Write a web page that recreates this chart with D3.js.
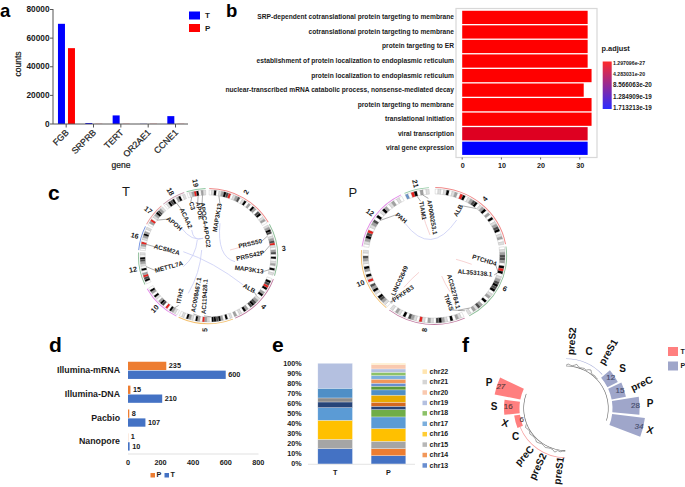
<!DOCTYPE html>
<html><head><meta charset="utf-8">
<script src="https://cdn.jsdelivr.net/npm/d3@7"></script>
<style>html,body{margin:0;padding:0;background:#fff}svg{display:block}text{font-family:"Liberation Sans",Arial,sans-serif;fill:#1a1a1a}</style>
</head><body><svg id="c" width="685" height="487"></svg>
<script>
// ---- panel a
const aGenes=["FGB","SRPRB","TERT","OR2AE1","CCNE1"];
const aT=[70000,700,6000,100,5500];
const aP=[53000,100,100,100,100];
const aTicks=[0,20000,40000,60000,80000];
// ---- panel b
const bTerms=["SRP-dependent cotranslational protein targeting to membrane","cotranslational protein targeting to membrane","protein targeting to ER","establishment of protein localization to endoplasmic reticulum","protein localization to endoplasmic reticulum","nuclear-transcribed mRNA catabolic process, nonsense-mediated decay","protein targeting to membrane","translational initiation","viral transcription","viral gene expression"];
const bCounts=[32,32,32,32,33,31,33,33,32,32];
const bPadj=[1.3e-27,1.3e-27,1.3e-27,1.3e-27,1e-26,1e-26,1e-25,3e-25,2.2e-20,1.713213e-19];
const bLegend=["1.297096e-27","4.283031e-20","8.566063e-20","1.284909e-19","1.713213e-19"];
const bLegendVals=[1.297096e-27,4.283031e-20,8.566063e-20,1.284909e-19,1.713213e-19];
const bTicks=[0,10,20,30];
// ---- panel c: sector name, start deg, end deg, arc colour, cytobands (w white,l light,g grey,d dark,k black,r red)
const cTChrom=[
["2",1,60,"#f08a8a","wlkwlgkdrwlgdwlkwgwkgwdkwlgw"],
["3",62,107,"#8fbf9a","lgkdwlgdrlwgdwkwlgwkwl"],
["4",110,157,"#c07aa0","wkdrkwgkwlgdkdwgkwlwg"],
["5",159,205,"#f3c070","lwkwgkdkkwlgrwgkwlgkwlw"],
["10",207,241,"#e38ce8","wlgkwrwdkgwlkwgkw"],
["12",245,273,"#8fbf9a","wkdrgwkwlgdkwl"],
["16",275,296,"#6f8fe0","wlgrwlgkgwl"],
["17",298,318,"#e8a0a0","wgrwlgkdgl"],
["18",320,340,"#c9a0b0","wlkdkwgkwl"],
["19",342,358,"#8fc8a0","wlgrkwgl"]];
const cPChrom=[
["4",1,80,"#f08a8a","wlwlkwlgwrkwlgdkwlgkwgwkwlgdkwlgwl"],
["6",82,151,"#8fbf9a","wlgddgwkrkwlgdkdkwlgwkwgdlgwl"],
["8",155,218,"#c07aa0","wlgwkwlgkdwlgwlrwlgdwkwlgwl"],
["10",221,275,"#f3c070","wlgdkwlkgdwrlkwgkwlgdwl"],
["12",278,333,"#e38ce8","wlgkdrwlgdwkwlkgwlgwlw"],
["21",336,356,"#8fc8a0","bwrkwgwl"]];
// gene, ring angle of the locus
const cTGenes=["MAP3K13","PRSS50","PRSS42P","MAP3K13","ALB","AC119428.1","AC008467.1","ITIH2","METTL7A","ACSM2A","APOH","ACAA2","C3","APOE","APOC4-APOC2"];
const cTLoci=[10,71,80,103,130,177,187,212,260,281,306,330,345,351,355];
const cPGenes=["AP000253.1","TIAM1","PAH","ALB","PTCHD4","AL353138.1","AC022784.1","TNKS","LINC02649","PFKFB3"];
const cPLoci=[350,345,305,40,104,106,147,152,220,222];
// layout of gene labels: offset x, offset y, rotation
const cTLabelLayout=[[9.7,-38.3,-80],[42.3,-12,-13],[42.3,0,-13],[41,14,8],[41,32.7,30],[-3,40.7,-87],[-11.3,39,-80],[-27.7,40,-80],[-39,11.3,-15],[-41.3,-6,15],[-34,-32,40],[-22.3,-37.7,65],[-16.3,-50,75],[-9,-45.3,80],[-3,-31,82]];
const cPLabelLayout=[[-2.3,-38.7,80],[-11.7,-45.3,80],[-33,-37.7,40],[24.7,-45.3,-60],[50.3,4.7,17],[41,17.3,5],[19.3,35.7,75],[14.3,46.7,70],[-34,25,-65],[-30.7,38,-35]];
// layout of link curves: start, end, control, colour
const BL="#c9cdf5",PK="#f5c8c8";
const cTLinkLayout=[[-24.7,-4.3,35.3,29,5.3,5.7,BL],[-24.7,10.7,-10.7,-16,-12.3,.7,BL],[-26.3,-27.7,-4.7,-17.7,-16.3,-14.3,BL],[-16.3,-26,-5.3,-17.7,-14.7,-14.3,BL],[-19.7,37.3,-6.3,-6,-8,17.3,BL],[12,-32.7,27,5.7,8.7,.7,BL],[22,-6,32,-8.7,27,-7.3,PK]];
const cPLinkLayout=[[-29,-32.7,22.7,-36,-3.3,1.3,BL],[-11.7,-44.3,-4,-21,-9,-32.7,PK],[22,3.3,37.7,8.3,30,5.5,PK],[7.7,20,16,35.7,11,28,PK],[-30,31.3,-15,16.3,-23,23,PK]];
// ---- panel d
const dCats=["Illumina-mRNA","Illumina-DNA","Pacbio","Nanopore"];
const dP=[235,15,8,1];
const dT=[600,210,107,10];
const dTicks=[0,200,400,600,800];
// ---- panel e
const eSeries=["chr1","chr2","chr3","chr4","chr5","chr6","chr7","chr8","chr9","chr10","chr11","chr12","chr13","chr14","chr15","chr16","chr17","chr18","chr19","chr20","chr21","chr22"];
const eColors=["#4472c4","#ed7d31","#a5a5a5","#ffc000","#5b9bd5","#70ad47","#264478","#d5691f","#8c8c8c","#e8ab00","#4f8fc6","#5d9a3a","#698ed0","#f1975a","#b7b7b7","#ffcd33","#7cafdd","#8cc168","#b4c0e0","#f9c9b0","#d5d5d5","#ffe5b0"];
const eT=[15.2,0,9.3,18.9,12.6,0,5.6,0,4,0,9.6,0,0,0,0,0,0,0,24.8,0,0,0];
const eP=[8.3,7,7.3,12.6,11.6,7.3,3.3,4,0,7,5.3,3.6,3,4,0,0,3.6,3.3,3.3,4.3,0,1.3];
const eLegend=["chr22","chr21","chr20","chr19","chr18","chr17","chr16","chr15","chr14","chr13"];
const eTicks=[0,10,20,30,40,50,60,70,80,90,100];
// ---- panel f
const fTRegions=["P","S","X","C","preC","preS2","preS1"];
const fTVals=[27,16,6,0,0,0,0];
const fTAngles=[288,271,255,240,220,205,186];
const fPRegions=["preS2","C","preS1","S","preC","P","X"];
const fPVals=[0,0,0,12,15,28,34];
const fPAngles=[5,21,38,56,72,88,104];
const fTCoverage=[0,0,2,0,5,1,0,1,3,1,0,2,4,1,0,1,3,0,1,4,0];
const fPCoverage=[0,3,1,0,2,5,1,0,1,2,0,4,6,1,0,1,0,0];

const svg=d3.select("#c");
const DEG=Math.PI/180;
function label(x,y,s,opt={}){
 const t=svg.append("text").attr("x",x).attr("y",y).text(s)
  .attr("font-size",opt.size||8).attr("font-weight",opt.weight||"bold")
  .attr("text-anchor",opt.anchor||"start").attr("dominant-baseline",opt.base||"middle")
  .attr("transform",opt.rot!=null?`rotate(${opt.rot} ${x} ${y})`:null);
 if(opt.medium) t.attr("stroke","#1a1a1a").attr("stroke-width",.22);
 return t;
}
[["a",0,16.8],["b",226,16.8],["c",48,200],["d",49,352],["e",272,352],["f",462,352]].forEach(d=>label(d[1],d[2],d[0],{size:d[0]=="a"||d[0]=="b"?18.5:21,base:"auto"}).style("fill","#000"));

// ===== a
(function(){
 const x=d3.scaleBand().domain(aGenes).range([52.5,189.2]);
 const y=d3.scaleLinear().domain([0,80000]).range([124,9.5]);
 const g=svg.append("g");
 aGenes.forEach((n,i)=>{
  const c=x(n)+x.bandwidth()/2;
  g.append("rect").attr("x",c-8.2).attr("width",7).attr("y",y(aT[i])).attr("height",y(0)-y(aT[i])).attr("fill","#0000ff");
  g.append("rect").attr("x",c+1.8).attr("width",7).attr("y",y(aP[i])).attr("height",y(0)-y(aP[i])).attr("fill","#ff0000");
  g.append("line").attr("x1",c).attr("x2",c).attr("y1",124).attr("y2",127.5).attr("stroke","#555");
  label(c+1.5,131.5,n,{anchor:"end",rot:-45,size:8.8,weight:"normal",medium:true});
 });
 g.append("line").attr("x1",53).attr("x2",188).attr("y1",124).attr("y2",124).attr("stroke","#555").attr("stroke-width",1);
 g.append("line").attr("x1",53).attr("x2",53).attr("y1",9).attr("y2",124).attr("stroke","#555").attr("stroke-width",1);
 aTicks.forEach(t=>{
  g.append("line").attr("x1",50).attr("x2",53).attr("y1",y(t)).attr("y2",y(t)).attr("stroke","#555");
  label(49.5,y(t)+.5,t,{anchor:"end",size:8.3});
 });
 label(19,64,"counts",{anchor:"middle",rot:-90,size:8.5,weight:"normal",medium:true});
 label(121,166,"gene",{anchor:"middle",size:8.5,weight:"normal",medium:true});
 g.append("rect").attr("x",189).attr("y",11.5).attr("width",11).attr("height",8).attr("fill","#0000ff");
 g.append("rect").attr("x",189).attr("y",24).attr("width",11).attr("height",8).attr("fill","#ff0000");
 label(205,16,"T",{size:8}); label(205,28.5,"P",{size:8});
})();

// ===== b
(function(){
 const x=d3.scaleLinear().domain([0,10]).range([462.2,501.4]);
 const y=d3.scaleBand().domain(bTerms).range([10.2,155.5]).paddingInner(.09).paddingOuter(.04);
 const col=d3.scaleLinear().domain([1.297e-27,1.713213e-19]).range(["#ff0000","#0000ff"]);
 svg.append("rect").attr("x",456).attr("y",8.5).attr("width",141).attr("height",149).attr("fill","#fff").attr("stroke","#d8d8d8").attr("stroke-width",1.2);
 bTerms.forEach((n,i)=>{
  svg.append("rect").attr("x",x(0)).attr("y",y(n)).attr("width",x(bCounts[i])-x(0)).attr("height",y.bandwidth()).attr("fill",col(bPadj[i]));
  label(454,y(n)+y.bandwidth()/2+.2,n,{anchor:"end",size:6.65});
 });
 bTicks.forEach(t=>{
  svg.append("line").attr("x1",x(t)).attr("x2",x(t)).attr("y1",157.5).attr("y2",159.5).attr("stroke","#666");
  label(x(t)+.5,166,t,{anchor:"middle",size:7.2});
 });
 label(601.5,49.5,"p.adjust",{size:7.4});
 const defs=svg.append("defs");
 const grad=defs.append("linearGradient").attr("id","pg").attr("x1",0).attr("x2",0).attr("y1",0).attr("y2",1);
 grad.append("stop").attr("offset","0%").attr("stop-color","#ff2a2a");
 grad.append("stop").attr("offset","100%").attr("stop-color","#2a2aff");
 svg.append("rect").attr("x",602.7).attr("y",61.5).attr("width",9).attr("height",47.5).attr("fill","url(#pg)");
 const ly=d3.scaleLinear().domain([bLegendVals[0],bLegendVals[4]]).range([63.2,108.4]);
 bLegend.forEach((s,i)=>label(613,ly(bLegendVals[i]),s,{size:i<2?5.2:6.3}));
})();

// ===== c
function circos(cx,cy,sx,title,tx,ty,chroms,genes,loci,labelLayout,linkLayout,outR,nameGap){
 const g=svg.append("g").attr("transform",`translate(${cx},${cy})`);
 const ring=g.append("g").attr("transform",`scale(${sx},1)`);
 const bandCol={w:"#ffffff",l:"#dedede",g:"#a0a0a0",d:"#4a4a4a",k:"#000",r:"#e8201c",b:"#6a93c8"};
 const pol=(a,r)=>[sx*r*Math.sin(a*DEG),-r*Math.cos(a*DEG)];
 linkLayout.forEach(l=>{
  const p=d3.path();
  p.moveTo(l[0],l[1]);p.quadraticCurveTo(l[4],l[5],l[2],l[3]);
  g.append("path").attr("d",p).attr("fill","none").attr("stroke",l[6]).attr("stroke-width",.8);
 });
 chroms.forEach(c=>{
  const [name,a0,a1,color,bands]=c;
  const ang=d3.scaleLinear().domain([0,bands.length]).range([a0*DEG,a1*DEG]);
  ring.append("path").attr("d",d3.arc()({innerRadius:outR-.9,outerRadius:outR,startAngle:a0*DEG,endAngle:a1*DEG})).attr("fill",color);
  bands.split("").forEach((b,i)=>{
   ring.append("path").attr("d",d3.arc()({innerRadius:outR-7,outerRadius:outR-2,startAngle:ang(i),endAngle:ang(i+1)}))
    .attr("fill",bandCol[b]).attr("stroke","#999").attr("stroke-width",.25);
  });
  const m=(a0+a1)/2,[lx,ly]=pol(m,outR+nameGap);
  const rot=m<=180?m-90:m+90;
  g.append("text").attr("x",lx).attr("y",ly).text(name).attr("font-size",7.2).attr("font-weight","bold")
   .attr("text-anchor","middle").attr("dominant-baseline","middle").attr("transform",`rotate(${rot} ${lx} ${ly})`);
 });
 genes.forEach((n,i)=>{
  const [lx,ly,rot]=labelLayout[i];
  const [rx,ry]=pol(loci[i],outR-7);
  const len=n.length*1.92;
  const s=Math.sin(rot*DEG),c=Math.cos(rot*DEG);
  const best=[[lx+c*len,ly+s*len],[lx-c*len,ly-s*len]].sort((p,q)=>Math.hypot(p[0]-rx,p[1]-ry)-Math.hypot(q[0]-rx,q[1]-ry))[0];
  g.append("line").attr("x1",rx).attr("y1",ry).attr("x2",best[0]).attr("y2",best[1]).attr("stroke","#333").attr("stroke-width",.4);
  g.append("text").attr("x",lx).attr("y",ly).text(n).attr("font-size",6.3).attr("font-weight","bold")
   .attr("text-anchor","middle").attr("dominant-baseline","middle").attr("transform",`rotate(${rot} ${lx} ${ly})`);
 });
 label(tx,ty,title,{size:13,weight:"normal"});
}
circos(208,256,1.03,"T",122,193,cTChrom,cTGenes,cTLoci,cTLabelLayout,cTLinkLayout,68,6);
circos(434,256,1.06,"P",348.5,193.5,cPChrom,cPGenes,cPLoci,cPLabelLayout,cPLinkLayout,69,5.5);

// ===== d
(function(){
 const x=d3.scaleLinear().domain([0,800]).range([128,258.3]);
 const y=d3.scaleBand().domain(dCats).range([358.5,454]).paddingInner(0).paddingOuter(0);
 dCats.forEach((n,i)=>{
  const c=y(n)+y.bandwidth()/2;
  svg.append("rect").attr("x",x(0)).attr("y",c-8.7).attr("width",x(dP[i])-x(0)).attr("height",8.3).attr("fill","#ed7d31");
  svg.append("rect").attr("x",x(0)).attr("y",c+.2).attr("width",x(dT[i])-x(0)).attr("height",8.3).attr("fill","#4472c4");
  label(x(dP[i])+2.5,c-4.5,dP[i],{size:7.3});
  label(x(dT[i])+2.5,c+4.7,dT[i],{size:7.3});
  label(120,c,n,{anchor:"end",size:8.8});
 });
 svg.append("line").attr("x1",128).attr("x2",258.5).attr("y1",454).attr("y2",454).attr("stroke","#d9d9d9").attr("stroke-width",.8);
 dTicks.forEach(t=>label(x(t),463.5,t,{anchor:"middle",size:7.3}));
 svg.append("rect").attr("x",150.5).attr("y",473).attr("width",4.5).attr("height",4.5).attr("fill","#ed7d31");
 label(156.5,475.5,"P",{size:7.2});
 svg.append("rect").attr("x",164.5).attr("y",473).attr("width",4.5).attr("height",4.5).attr("fill","#4472c4");
 label(170.5,475.5,"T",{size:7.2});
})();

// ===== e
(function(){
 const y=d3.scaleLinear().domain([0,100]).range([464,363.3]);
 const x=d3.scaleBand().domain(["T","P"]).range([308.6,415]).paddingInner(.35).paddingOuter(.173);
 const stack=(vals,name)=>{let acc=0;const scale=100/d3.sum(vals);vals.forEach((v,i)=>{ if(!v) return;
   svg.append("rect").attr("x",x(name)).attr("width",x.bandwidth()).attr("y",y(acc+v*scale)).attr("height",y(acc)-y(acc+v*scale)).attr("fill",eColors[i]).attr("stroke","#fff").attr("stroke-opacity",.55).attr("stroke-width",.5);
   acc+=v*scale;});};
 stack(eT,"T");stack(eP,"P");
 svg.append("line").attr("x1",308).attr("x2",415).attr("y1",464.3).attr("y2",464.3).attr("stroke","#dcdcdc").attr("stroke-width",.8);
 eTicks.forEach(t=>label(301.7,y(t)+.3,t+"%",{anchor:"end",size:7.2}));
 ["T","P"].forEach(n=>label(x(n)+x.bandwidth()/2,473,n,{anchor:"middle",size:7.2}));
 const ly=d3.scaleLinear().domain([0,9]).range([371.7,465.5]);
 eLegend.forEach((n,i)=>{
  svg.append("rect").attr("x",422.5).attr("y",ly(i)-2.3).attr("width",4.5).attr("height",4.5).attr("fill",eColors[eSeries.indexOf(n)]);
  label(429.5,ly(i)+.2,n,{size:7});
 });
})();

// ===== f
(function(){
 const cx=566,cy=408.3;
 const g=svg.append("g").attr("transform",`translate(${cx},${cy})`);
 const r=d3.scaleLinear().domain([0,34]).range([46.5,79.5]);
 const half=7;
 const pol=(a,rr)=>[rr*Math.sin(a*DEG),-rr*Math.cos(a*DEG)];
 function side(names,vals,angs,color,dark,arcColor,arcStart,arcEnd,grayStart,grayEnd,cov){
  g.append("path").attr("d",d3.arc()({innerRadius:49.2,outerRadius:49.9,startAngle:arcStart*DEG,endAngle:arcEnd*DEG})).attr("fill",arcColor);
  g.append("path").attr("d",d3.arc()({innerRadius:42,outerRadius:42.6,startAngle:grayStart*DEG,endAngle:grayEnd*DEG})).attr("fill","#666");
  const ca=d3.scaleLinear().domain([0,cov.length-1]).range([arcStart*DEG,arcEnd*DEG]);
  const rad=d3.lineRadial().angle((d,i)=>ca(i)).radius(d=>43+d*.45).curve(d3.curveLinear);
  g.append("path").attr("d",rad(cov)).attr("fill","none").attr("stroke","#666").attr("stroke-width",.6);
  names.forEach((n,i)=>{
   const a=angs[i];
   if(vals[i]>0){
    g.append("path").attr("d",d3.arc()({innerRadius:r(0),outerRadius:r(vals[i]),startAngle:(a-half)*DEG,endAngle:(a+half)*DEG})).attr("fill",color);
    const [vx,vy]=pol(a,r(vals[i])-(vals[i]<10?6.5:4.2));
    g.append("text").attr("x",vx).attr("y",vy).text(vals[i]).attr("font-size",8).attr("font-style",(vals[i]==27||vals[i]==34)?"italic":null).attr("stroke",dark).attr("stroke-width",.15).style("fill",dark)
     .attr("text-anchor","middle").attr("dominant-baseline","middle");
   }
  });
 }
 side(fTRegions,fTVals,fTAngles,"#ff7f7f","#5a3a3a","#f7a0a0",181,248,181,290,fTCoverage);
 side(fPRegions,fPVals,fPAngles,"#9fa6ca","#444a6a","#a8aed8",0,47,0,107,fPCoverage);
 const place=[
  ["P",-77,-25,0],["S",-72,-.5,0],["X",-61,15.5,15],["C",-50.5,29,0],["preC",-41,48,-48],["preS2",-27.5,58.5,-65],["preS1",-6.5,62.5,-82],
  ["preS2",6.5,-67,-85],["C",23,-56,0],["preS1",43,-56,-60],["S",56.5,-39,0],["preC",76,-24,-25],["P",84,-3.5,0],["X",84,22.5,15]];
 place.forEach(p=>{
  g.append("text").attr("x",p[1]).attr("y",p[2]).text(p[0]).attr("font-size",10).attr("font-weight","bold").style("fill","#111")
   .attr("text-anchor","middle").attr("dominant-baseline","middle").attr("transform",`rotate(${p[3]} ${p[1]} ${p[2]})`);
 });
 svg.append("rect").attr("x",668).attr("y",347).attr("width",10).attr("height",9).attr("fill","#ff7f7f");
 svg.append("rect").attr("x",668).attr("y",361.5).attr("width",10).attr("height",9).attr("fill","#9fa6ca");
 label(680.5,352,"T",{size:7}); label(680.5,366,"P",{size:7});
})();
</script></body></html>
